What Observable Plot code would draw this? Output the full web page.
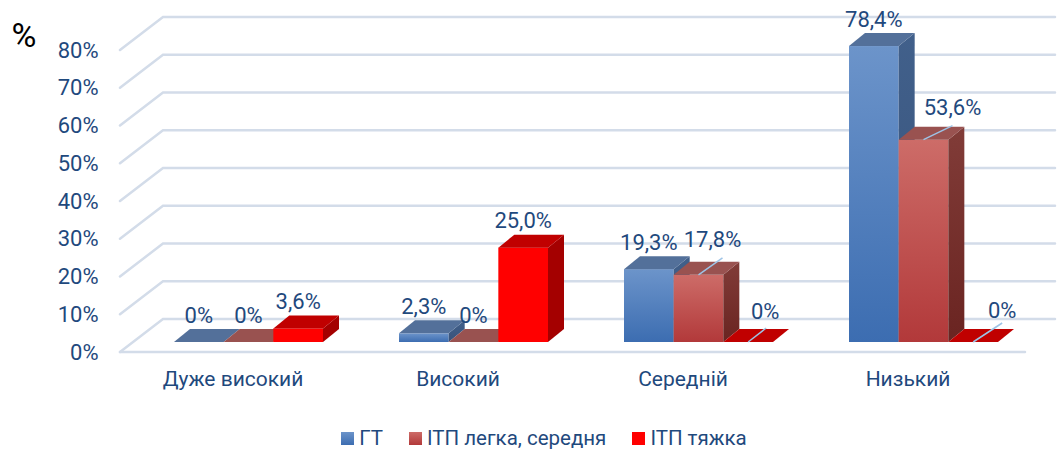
<!DOCTYPE html>
<html>
<head>
<meta charset="utf-8">
<script src="https://cdn.jsdelivr.net/npm/d3@7"></script>
<script src="https://cdn.jsdelivr.net/npm/@observablehq/plot@0.6"></script>
<style>
  html, body { margin: 0; padding: 0; background: #ffffff; }
  body { font-family: Roboto, "Open Sans", sans-serif; width: 1058px; }
  #legend { display: flex; justify-content: center; align-items: center; height: 24px; padding-left: 30px; box-sizing: border-box;
            font-family: Roboto, sans-serif; font-size: 20.5px; color: #1f497d; }
  #legend .item { display: flex; align-items: center; margin: 0 13px; }
  #legend .sw { width: 13px; height: 13px; margin-right: 5px; }
</style>
</head>
<body>
<div id="chart"></div>
<div id="legend"></div>
<script>
// ---- data ----
const categories = ["Дуже високий", "Високий", "Середній", "Низький"];
const series = ["ГТ", "ІТП легка, середня", "ІТП тяжка"];
const gtValues = [0, 2.3, 19.3, 78.4];
const itpLightValues = [0, 0, 17.8, 53.6];
const itpSevereValues = [3.6, 25.0, 0, 0];
const yTicks = [0, 10, 20, 30, 40, 50, 60, 70, 80];

// ---- styling ----
const palette = [
  {front: ["#6c94ca", "#3c6db1"], top: "#53709a", side: ["#41608b", "#38527a"]},
  {front: ["#cd6c68", "#b2393a"], top: "#995250", side: ["#813c38", "#6a2421"]},
  {front: ["#ff0000", "#ff0000"], top: "#c00000", side: ["#a40000", "#a40000"]}
];
const textColor = "#1f497d";
const depth = {dx: 16, dy: -13};
const leaderLabels = [
  {category: "Середній", series: "ІТП легка, середня", dx: 14, dy: -8, lx: 24, ly: -17},
  {category: "Середній", series: "ІТП тяжка", dx: 17, dy: -4, lx: 18, ly: -14},
  {category: "Низький", series: "ІТП легка, середня", dx: 29, dy: -5, lx: 29, ly: -14},
  {category: "Низький", series: "ІТП тяжка", dx: 29, dy: -5, lx: 29, ly: -19}
];

const seriesValues = [gtValues, itpLightValues, itpSevereValues];
const data = categories.flatMap((category, ci) =>
  series.map((s, si) => ({category, series: s, si, value: seriesValues[si][ci]})));
const fmt = v => v === 0 ? "0%" : v.toFixed(1).replace(".", ",") + "%";

// back wall + floor gridlines
function walls(index, scales, values, dim) {
  const g = d3.create("svg:g")
    .attr("fill", "none").attr("stroke", "#d3dce9")
    .attr("stroke-width", 2.5).attr("stroke-linecap", "round");
  const left = dim.marginLeft, right = dim.width - dim.marginRight;
  const fx = left - 52, bx = left - 9, bxr = dim.width - 3, ffr = right + 25;
  for (const t of yTicks) {
    const y = scales.y(t);
    g.append("polyline").attr("points", [[fx, y + 10], [bx, y - 23], [bxr, y - 23]].join(" "));
  }
  const y0 = scales.y(0);
  g.append("line").attr("x1", fx).attr("y1", y0 + 10).attr("x2", ffr).attr("y2", y0 + 10);
  return g.node();
}

// 3D bars
function bars3d(index, scales, values, dim) {
  const g = d3.create("svg:g");
  const defs = g.append("defs");
  palette.forEach((p, i) => {
    const gf = defs.append("linearGradient").attr("id", "front" + i).attr("x1", 0).attr("y1", 0).attr("x2", 0).attr("y2", 1);
    gf.append("stop").attr("offset", "0%").attr("stop-color", p.front[0]);
    gf.append("stop").attr("offset", "100%").attr("stop-color", p.front[1]);
    const gs = defs.append("linearGradient").attr("id", "side" + i).attr("x1", 0).attr("y1", 0).attr("x2", 0).attr("y2", 1);
    gs.append("stop").attr("offset", "0%").attr("stop-color", p.side[0]);
    gs.append("stop").attr("offset", "100%").attr("stop-color", p.side[1]);
  });
  const bw = scales.x.bandwidth();
  const w = bw / series.length;
  const y0 = scales.y(0);
  const {dx, dy} = depth;
  const labels = [];
  for (const d of data) {
    const x0 = scales.x(d.category) + d.si * w;
    const yv = scales.y(d.value);
    const p = palette[d.si];
    if (d.value > 0) {
      g.append("rect").attr("x", x0).attr("y", yv).attr("width", w).attr("height", y0 - yv)
        .attr("fill", `url(#front${d.si})`);
      g.append("polygon").attr("points", [[x0 + w, yv], [x0 + w + dx, yv + dy], [x0 + w + dx, y0 + dy], [x0 + w, y0]].join(" "))
        .attr("fill", `url(#side${d.si})`);
    }
    g.append("polygon").attr("points", [[x0, yv], [x0 + w, yv], [x0 + w + dx, yv + dy], [x0 + dx, yv + dy]].join(" "))
      .attr("fill", p.top);
    const lead = leaderLabels.find(l => l.category === d.category && l.series === d.series);
    const cx = x0 + w / 2;
    labels.push({cx, yv, lead, text: fmt(d.value)});
  }
  for (const l of labels) {
    if (l.lead) {
      g.append("line").attr("x1", l.cx).attr("y1", l.yv).attr("x2", l.cx + l.lead.lx).attr("y2", l.yv + l.lead.ly)
        .attr("stroke", "#9dc3e6").attr("stroke-width", 1.5);
    }
    g.append("text").attr("x", l.cx + (l.lead ? l.lead.dx : 0)).attr("y", l.yv - 27 + (l.lead ? l.lead.dy : 0))
      .attr("text-anchor", "middle").attr("dominant-baseline", "central")
      .attr("fill", textColor).attr("font-size", 22).text(l.text);
  }
  return g.node();
}

const chart = Plot.plot({
  width: 1058,
  height: 426,
  marginLeft: 172,
  marginRight: 58,
  marginTop: 40,
  marginBottom: 84,
  style: {fontFamily: "Roboto, sans-serif", color: textColor, background: "#ffffff", overflow: "visible"},
  x: {type: "band", domain: categories, paddingInner: 0.336, paddingOuter: 0, axis: null},
  y: {domain: [0, 80], axis: null},
  marks: [
    walls,
    bars3d,
    Plot.axisY(yTicks, {tickSize: 0, tickPadding: 0, dx: -74, dy: 10, tickFormat: d => d + "%", fontSize: 22, label: null}),
    Plot.axisX(categories, {tickSize: 0, tickPadding: 29, dx: -16, fontSize: 21, label: null}),
    Plot.text(["%"], {frameAnchor: "top-left", textAnchor: "start", lineAnchor: "top", dx: -161, dy: -18, fontSize: 34, fill: "#000000"})
  ]
});
document.getElementById("chart").appendChild(chart);

// legend
const legend = d3.select("#legend");
series.forEach((s, i) => {
  const item = legend.append("div").attr("class", "item");
  item.append("div").attr("class", "sw")
    .style("background", `linear-gradient(${palette[i].front[0]}, ${palette[i].front[1]})`);
  item.append("span").text(s);
});
</script>
</body>
</html>
